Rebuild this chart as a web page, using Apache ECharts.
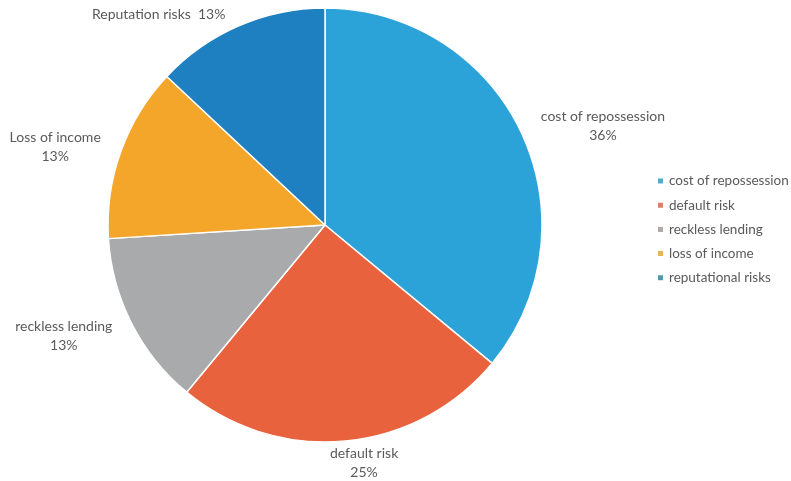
<!DOCTYPE html>
<html>
<head>
<meta charset="utf-8">
<script src="https://cdn.jsdelivr.net/npm/echarts@6/dist/echarts.min.js"></script>
<style>
  html, body { margin: 0; padding: 0; background: #fff; }
  #chart { width: 791px; height: 481px; }
</style>
</head>
<body>
<div id="chart"></div>
<script>
// Risk categories (legend names) and the wording used on the slice labels
const categories = ['cost of repossession', 'default risk', 'reckless lending', 'loss of income', 'reputational risks'];
const sliceLabels = ['cost of repossession', 'default risk', 'reckless lending', 'Loss of income', 'Reputation risks'];
// Share of each risk, in percent
const shares = [36, 25, 13, 13, 13];

const sliceColors = ['#2ba2d8', '#e9623e', '#a9aaab', '#f4a62a', '#1e7fc1'];
const legendColors = ['#58a8d0', '#d9806a', '#b0abaa', '#e7b35c', '#4e9aa9'];

// Small nudges of each slice label away from its default spot
const labelShiftX = [0, -22, 0, 0, -2];
const labelShiftY = [0, 6, 5, 1, 3];

const chart = echarts.init(document.getElementById('chart'), null, { renderer: 'canvas' });

const textColor = '#5a5a5a';
const fontFamily = 'Lato, "Open Sans", sans-serif';

chart.setOption({
  animation: false,
  legend: {
    orient: 'vertical',
    left: 651,
    top: 169,
    itemWidth: 7,
    itemHeight: 7,
    itemGap: 10.2,
    icon: 'rect',
    textStyle: { color: textColor, fontSize: 13.5, fontFamily: fontFamily },
    data: categories.map((name, i) => ({ name: name, itemStyle: { color: legendColors[i] } }))
  },
  series: [{
    type: 'pie',
    center: [325, 225],
    radius: 217,
    startAngle: 90,
    clockwise: true,
    avoidLabelOverlap: false,
    itemStyle: { borderColor: '#fff', borderWidth: 1.5 },
    label: {
      show: true,
      position: 'outside',
      color: textColor,
      fontSize: 14,
      fontFamily: fontFamily,
      lineHeight: 19,
      formatter: p => p.dataIndex === 4
        ? sliceLabels[p.dataIndex] + '  ' + p.value + '%'
        : sliceLabels[p.dataIndex] + '\n' + p.value + '%'
    },
    labelLine: { show: false, length: 16, length2: 0 },
    labelLayout: function (params) {
      const r = params.labelRect;
      const i = params.dataIndex;
      return {
        x: r.x + r.width / 2 + labelShiftX[i],
        y: r.y + r.height / 2 + labelShiftY[i],
        align: 'center',
        verticalAlign: 'middle'
      };
    },
    emphasis: { disabled: true },
    data: categories.map((name, i) => ({
      name: name,
      value: shares[i],
      itemStyle: { color: sliceColors[i] }
    }))
  }]
});
</script>
</body>
</html>
